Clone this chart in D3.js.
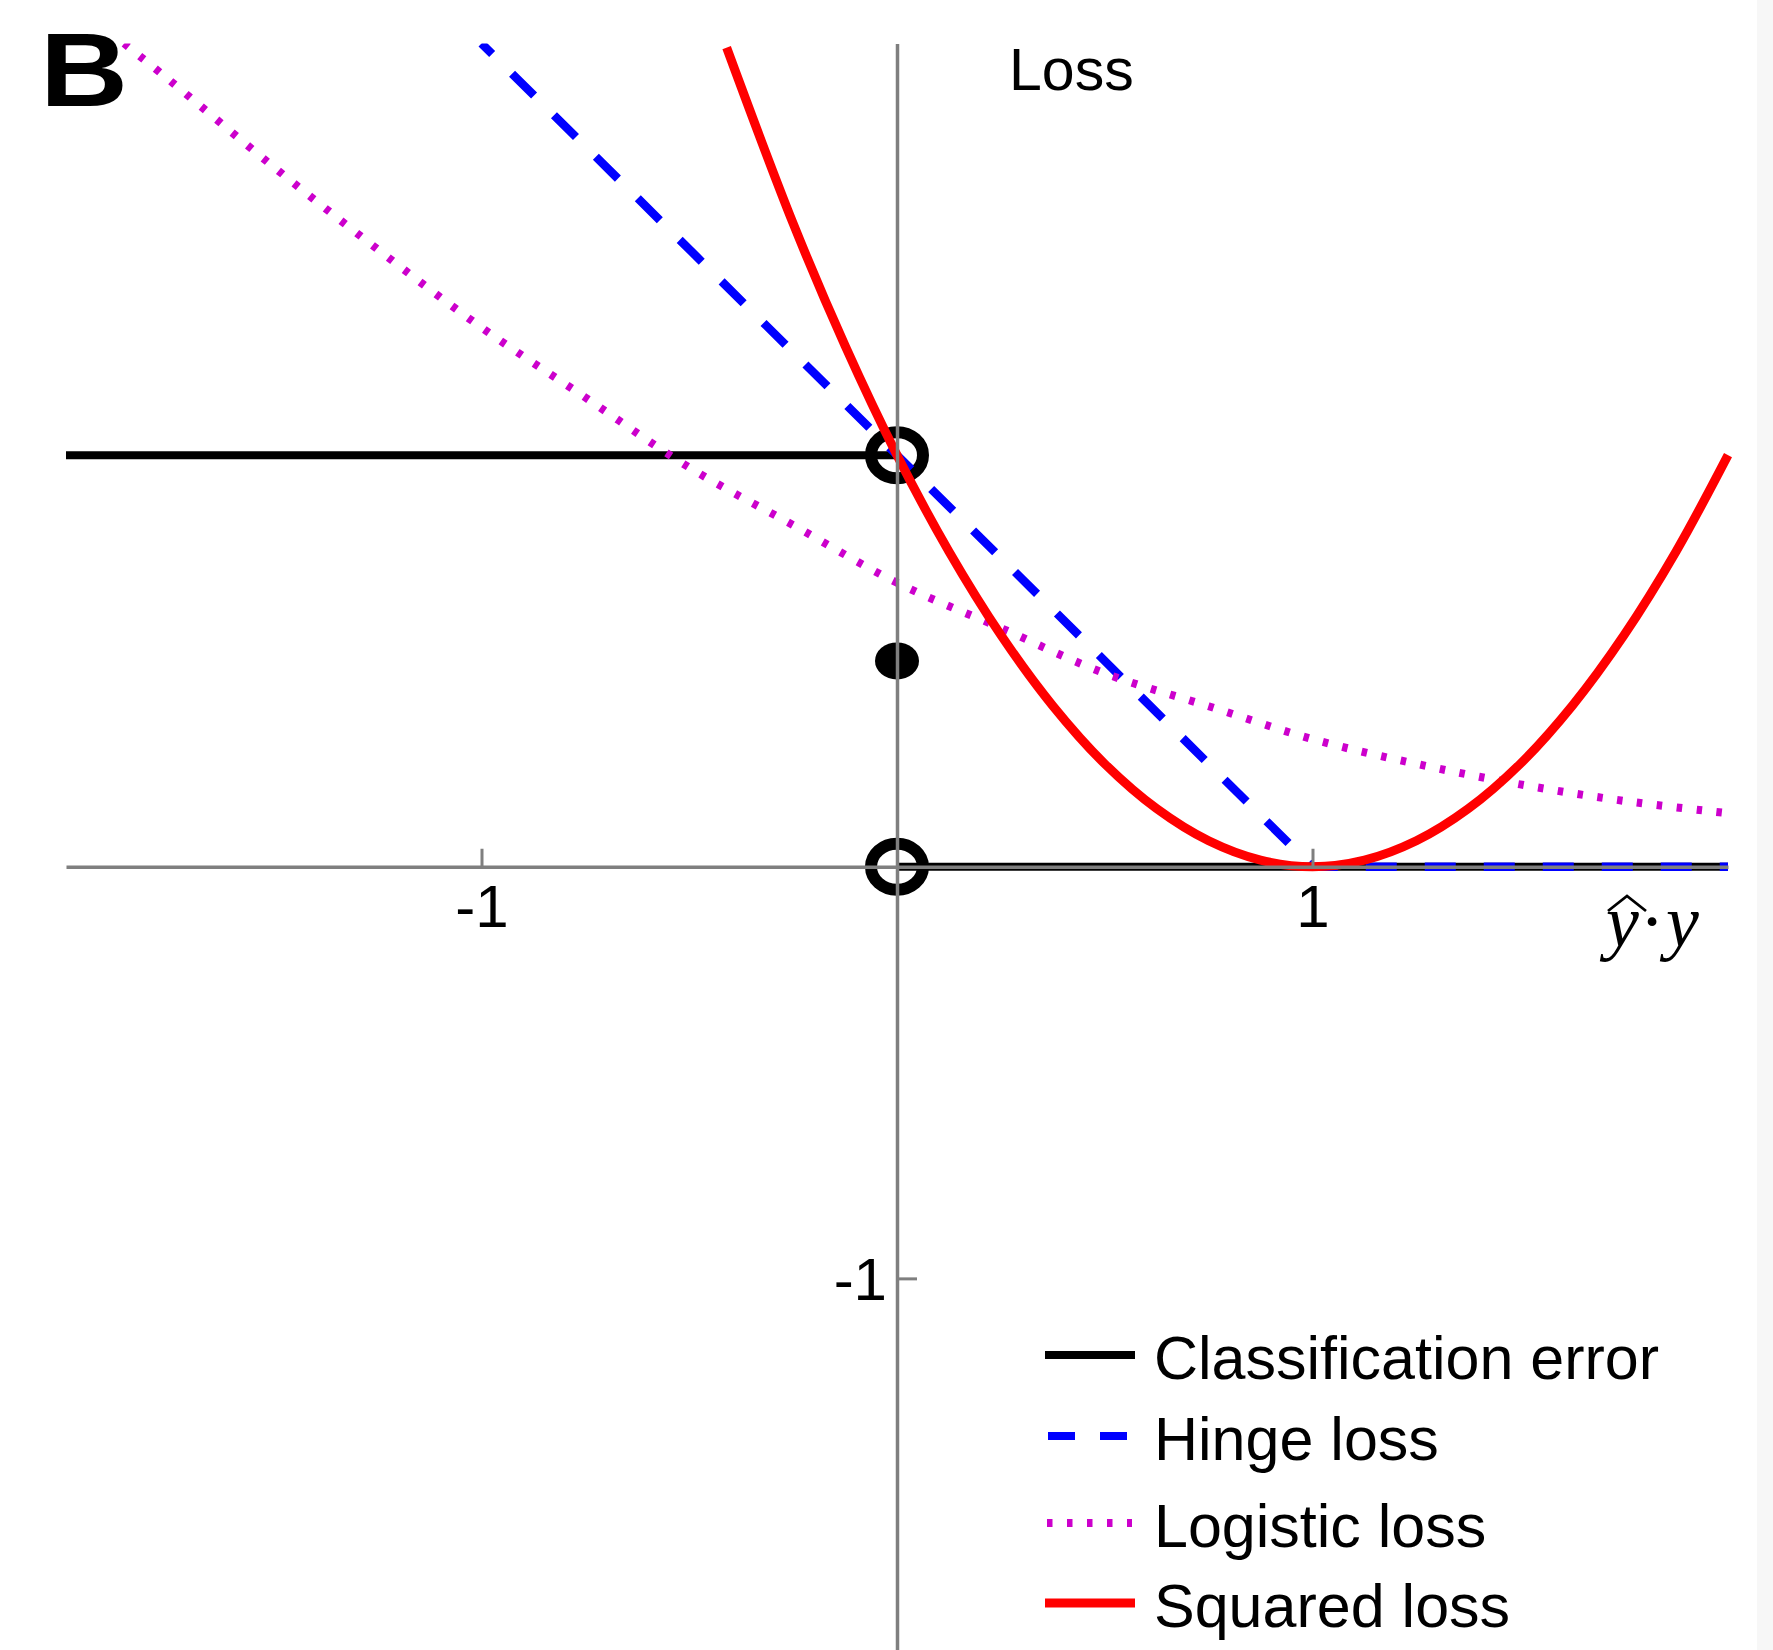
<!DOCTYPE html>
<html>
<head>
<meta charset="utf-8">
<script src="https://cdn.jsdelivr.net/npm/d3@7"></script>
<style>
  html, body { margin: 0; padding: 0; background: #fff; }
  svg { display: block; }
  text { font-family: "Liberation Sans", Arial, sans-serif; }
</style>
</head>
<body>
<script>
// Loss functions plotted against the margin ŷ·y
const seriesNames = ["Classification error", "Hinge loss", "Logistic loss", "Squared loss"];
const seriesColors = ["#000000", "#0000ff", "#cc00cc", "#ff0000"];

const xTicks = [-1, 1];
const yTicks = [-1];

// classification error (0-1 loss), two flat pieces
const classLeft = [[-2, 1], [0, 1]];
const classRight = [[0, 0], [2, 0]];
const openMarkers = [[0, 1], [0, 0]];
const filledMarkers = [[0, 0.5]];

// hinge loss
const hinge = [[-1, 2], [1, 0], [2, 0]];

// logistic loss
const logistic = [
  [-1.86, 2.0], [-1.75, 1.91], [-1.5, 1.70], [-1.25, 1.50], [-1, 1.31],
  [-0.75, 1.14], [-0.5, 0.97], [-0.25, 0.83], [0, 0.69], [0.25, 0.58],
  [0.5, 0.47], [0.75, 0.39], [1, 0.31], [1.25, 0.25], [1.5, 0.20],
  [1.75, 0.16], [2, 0.13]
];

// squared loss
const squared = [
  [-0.41, 1.99], [-0.25, 1.563], [-0.125, 1.266], [0, 1.0], [0.125, 0.766],
  [0.25, 0.563], [0.375, 0.391], [0.5, 0.25], [0.625, 0.141], [0.75, 0.063],
  [0.875, 0.016], [1, 0], [1.125, 0.016], [1.25, 0.063], [1.375, 0.141],
  [1.5, 0.25], [1.625, 0.391], [1.75, 0.563], [1.875, 0.766], [2, 1.0]
];

const W = 1773, H = 1650;
const svg = d3.select("body").append("svg")
  .attr("width", W).attr("height", H)
  .attr("viewBox", `0 0 ${W} ${H}`);

svg.append("rect").attr("width", W).attr("height", H).attr("fill", "#fff");
svg.append("rect").attr("x", 1757).attr("y", 0).attr("width", W - 1757).attr("height", H).attr("fill", "#f7f7f7");

const x = d3.scaleLinear().domain([-2, 2]).range([66, 1728]);
const y = d3.scaleLinear().domain([-2, 2]).range([1690, 43.5]);

svg.append("defs").append("clipPath").attr("id", "plot-clip")
  .append("rect")
  .attr("x", x(-2) - 6).attr("y", y(2))
  .attr("width", x(2) - x(-2) + 12).attr("height", y(-2) - y(2));

const plot = svg.append("g").attr("clip-path", "url(#plot-clip)");
const line = d3.line().x(d => x(d[0])).y(d => y(d[1]));
const smooth = d3.line().x(d => x(d[0])).y(d => y(d[1])).curve(d3.curveCatmullRom.alpha(0.5));

// classification error
[classLeft, classRight].forEach(seg => {
  plot.append("path").datum(seg)
    .attr("d", line)
    .attr("fill", "none")
    .attr("stroke", seriesColors[0])
    .attr("stroke-width", 8);
});
plot.selectAll(".open-marker").data(openMarkers).join("ellipse")
  .attr("class", "open-marker")
  .attr("cx", d => x(d[0])).attr("cy", d => y(d[1]))
  .attr("rx", 26).attr("ry", 23)
  .attr("fill", "none").attr("stroke", "#000").attr("stroke-width", 12);
plot.selectAll(".filled-marker").data(filledMarkers).join("ellipse")
  .attr("class", "filled-marker")
  .attr("cx", d => x(d[0])).attr("cy", d => y(d[1]))
  .attr("rx", 22).attr("ry", 18.5)
  .attr("fill", "#000");

// hinge loss
plot.append("path").datum(hinge)
  .attr("d", line)
  .attr("fill", "none")
  .attr("stroke", seriesColors[1])
  .attr("stroke-width", 8.5)
  .attr("stroke-dasharray", "31,28")
  .attr("stroke-dashoffset", 16);

// logistic loss
plot.append("path").datum(logistic)
  .attr("d", smooth)
  .attr("fill", "none")
  .attr("stroke", seriesColors[2])
  .attr("stroke-width", 8)
  .attr("stroke-dasharray", "5.5,14.5");

// squared loss
plot.append("path").datum(squared)
  .attr("d", smooth)
  .attr("fill", "none")
  .attr("stroke", seriesColors[3])
  .attr("stroke-width", 9);

// axes through the origin
const axisColor = "#7f7f7f";
const xAxis = d3.axisBottom(x).tickValues(xTicks).tickFormat(d3.format("d"))
  .tickSizeInner(-18).tickSizeOuter(0).tickPadding(18);
const yAxis = d3.axisLeft(y).tickValues(yTicks).tickFormat(d3.format("d"))
  .tickSizeInner(-20).tickSizeOuter(0).tickPadding(10);

const gx = svg.append("g").attr("transform", `translate(0,${y(0)})`).call(xAxis);
const gy = svg.append("g").attr("transform", `translate(${x(0)},0)`).call(yAxis);
[gx, gy].forEach(g => {
  g.select(".domain").attr("stroke", axisColor).attr("stroke-width", 3.5);
  g.selectAll(".tick line").attr("stroke", axisColor).attr("stroke-width", 3);
  g.selectAll(".tick text")
    .attr("fill", "#000")
    .style("font-family", '"Liberation Sans", Arial, sans-serif')
    .style("font-size", "60px");
});
gx.selectAll(".tick text").text(d => d === -1 ? "-1" : String(d));
gy.selectAll(".tick text").text(d => d === -1 ? "-1" : String(d)).attr("dy", "0.36em");

// axis titles
svg.append("text").attr("x", 1009).attr("y", 90)
  .attr("font-size", 59).attr("fill", "#000").text("Loss");

const mathFont = '"Liberation Serif", "DejaVu Serif", serif';
svg.append("text").attr("x", 1606).attr("y", 946)
  .style("font-family", mathFont).style("font-style", "italic")
  .attr("font-size", 74).text("y");
svg.append("path")
  .attr("d", "M1608,911 L1627,896 L1646,911")
  .attr("fill", "none").attr("stroke", "#000").attr("stroke-width", 2.8);
svg.append("text").attr("x", 1652).attr("y", 946).attr("text-anchor", "middle")
  .style("font-family", mathFont)
  .attr("font-size", 74).text("·");
svg.append("text").attr("x", 1666).attr("y", 946)
  .style("font-family", mathFont).style("font-style", "italic")
  .attr("font-size", 74).text("y");

// panel letter
svg.append("text").attr("x", 40).attr("y", 106)
  .attr("font-size", 104).attr("font-weight", "bold").attr("fill", "#000")
  .attr("textLength", 88).attr("lengthAdjust", "spacingAndGlyphs").text("B");

// legend
const legendBaselines = [1379, 1460, 1547, 1627];
const legendStyles = [
  { width: 8, dash: null, x1: 1045, x2: 1135 },
  { width: 8, dash: "27,25", x1: 1048, x2: 1130 },
  { width: 8, dash: "5.5,14.5", x1: 1047, x2: 1132 },
  { width: 9, dash: null, x1: 1045, x2: 1135 }
];
const legend = svg.append("g");
seriesNames.forEach((name, i) => {
  const by = legendBaselines[i];
  const s = legendStyles[i];
  const sample = legend.append("line")
    .attr("x1", s.x1).attr("x2", s.x2)
    .attr("y1", by - 24).attr("y2", by - 24)
    .attr("stroke", seriesColors[i]).attr("stroke-width", s.width);
  if (s.dash) sample.attr("stroke-dasharray", s.dash);
  legend.append("text").attr("x", 1154).attr("y", by)
    .attr("font-size", 61).attr("fill", "#000").text(name);
});
</script>
</body>
</html>
